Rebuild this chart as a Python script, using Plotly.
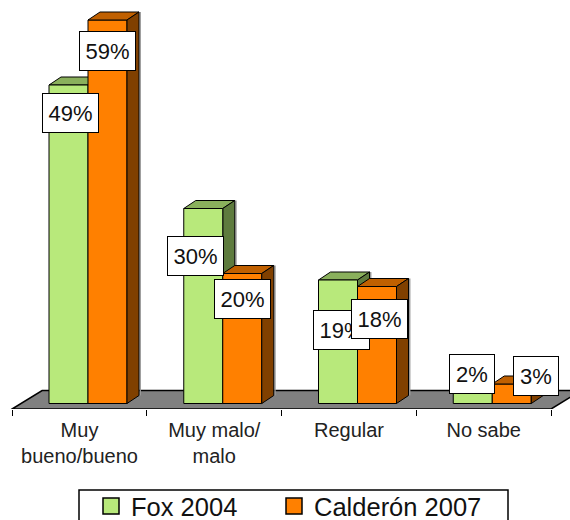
import plotly.graph_objects as go

categories = ["Muy<br>bueno/bueno", "Muy malo/<br>malo", "Regular", "No sabe"]
fox_2004 = [49, 30, 19, 2]
calderon_2007 = [59, 20, 18, 3]

GREEN, GREEN_TOP, GREEN_SIDE = "#B8E97B", "#8AB05C", "#5E7B3E"
ORANGE, ORANGE_TOP, ORANGE_SIDE = "#FF8000", "#C06000", "#804000"

W, H = 570, 520
PLOT_BOTTOM = 409          # pixel row of the axis line
ZERO_PX = 403.5            # pixel row of value 0
PX_PER_VALUE = 6.5
CAT_PX = 134.75            # category width
CAT0_PX = 88.0             # pixel column of the first bar-group centre
LABEL_SHIFT = 8.5 / CAT_PX # tick cells sit left of the bar groups (3D projection)
BAR_PX = 39.0              # bar width
DEPTH_X, DEPTH_Y = 12, 8   # bar depth
FLOOR_X, FLOOR_Y = 30, 18.5

xr = [-CAT0_PX / CAT_PX, (W - CAT0_PX) / CAT_PX]
yr = [(ZERO_PX - PLOT_BOTTOM) / PX_PER_VALUE, ZERO_PX / PX_PER_VALUE]
bw = BAR_PX / CAT_PX
dx, dy = DEPTH_X / CAT_PX, DEPTH_Y / PX_PER_VALUE
floor_front = yr[0]
floor_back = floor_front + FLOOR_Y / PX_PER_VALUE
xs = list(range(len(categories)))
left_edge = -0.5 - LABEL_SHIFT
right_edge = len(categories) - 0.5 - LABEL_SHIFT


def poly(points, fill, layer, line="black", width=1):
    path = "M" + " L".join(f"{x:.4f},{y:.4f}" for x, y in points) + " Z"
    return dict(type="path", path=path, xref="x", yref="y", fillcolor=fill,
                line=dict(color=line, width=width), layer=layer)


def faces(left, value, top_col, side_col, layer):
    right = left + bw
    shadow = dict(type="line", xref="x", yref="y", layer=layer,
                  x0=right + dx + 1.2 / CAT_PX, x1=right + dx + 1.2 / CAT_PX,
                  y0=dy, y1=value + dy, line=dict(color="#9A9A9A", width=1.5))
    return [
        shadow,
        poly([(left, value), (left + dx, value + dy), (right + dx, value + dy), (right, value)], top_col, layer),
        poly([(right, value), (right + dx, value + dy), (right + dx, dy), (right, 0)], side_col, layer),
    ]


shapes = [
    poly([(left_edge, floor_front), (left_edge + FLOOR_X / CAT_PX, floor_back),
          (right_edge + FLOOR_X / CAT_PX, floor_back), (right_edge, floor_front)],
         "#808080", "below", width=1.5)
]
for i in xs:
    shapes += faces(i - bw, fox_2004[i], GREEN_TOP, GREEN_SIDE, "below")
for i in xs:
    shapes += faces(i, calderon_2007[i], ORANGE_TOP, ORANGE_SIDE, "above")

# legend frame (runs past the lower edge of the picture, as in the original)
shapes.append(dict(type="rect", xref="paper", yref="paper", layer="above",
                   x0=79 / W, x1=508 / W,
                   y0=(PLOT_BOTTOM - 530) / PLOT_BOTTOM, y1=(PLOT_BOTTOM - 490) / PLOT_BOTTOM,
                   fillcolor="rgba(0,0,0,0)", line=dict(color="black", width=1.5)))

fig = go.Figure()
for name, vals, col, leg in (("Fox 2004", fox_2004, GREEN, "legend"),
                             ("Calderón 2007", calderon_2007, ORANGE, "legend2")):
    fig.add_bar(x=xs, y=vals, name=name, showlegend=False,
                marker=dict(color=col, line=dict(color="black", width=1)))
    # legend key: the bar key is a fixed 12 px, the original's is about 17 px
    fig.add_scatter(x=[None], y=[None], name=name, mode="markers", legend=leg,
                    marker=dict(symbol="square", size=16, color=col, line=dict(color="black", width=1.5)))

# label box shifts relative to each bar top (pixels)
fox_shift = [(1.5, 28), (-8, 47), (3.5, 50), (-0.5, -16.5)]
cal_shift = [(0, 31), (0.5, 25), (2, 32), (24.5, -8)]
box_w = [53, 53, 53, 42]


def label(i, value, centre, shift):
    return dict(x=centre, y=value, xref="x", yref="y", text=f"{value}%", showarrow=False,
                xshift=shift[0], yshift=-shift[1], width=box_w[i], height=36,
                bgcolor="white", bordercolor="black", borderwidth=1,
                font=dict(family="Liberation Sans", size=22, color="#111111"))


annotations = []
for i in xs:
    annotations.append(label(i, fox_2004[i], i - bw / 2, fox_shift[i]))
for i in xs:
    annotations.append(label(i, calderon_2007[i], i + bw / 2, cal_shift[i]))


def legend_at(px):
    return dict(orientation="h", x=px / W, y=(PLOT_BOTTOM - 483) / PLOT_BOTTOM,
                xanchor="left", yanchor="top", bgcolor="rgba(0,0,0,0)",
                font=dict(family="Liberation Sans", size=25.5, color="#111111"))


fig.update_layout(
    width=W, height=H,
    margin=dict(l=0, r=0, t=0, b=H - PLOT_BOTTOM, pad=0, autoexpand=False),
    paper_bgcolor="white", plot_bgcolor="white",
    barmode="group", bargap=1 - 2 * bw, bargroupgap=0,
    shapes=shapes, annotations=annotations,
    font=dict(family="Liberation Sans", color="#222222"),
    xaxis=dict(range=xr, tickvals=[i - LABEL_SHIFT for i in xs], ticktext=categories, ticks="",
               showgrid=False, zeroline=False, showline=False, tickfont=dict(size=20),
               ticklabelstandoff=7,
               minor=dict(ticks="outside", tick0=0.5 - LABEL_SHIFT, dtick=1, ticklen=6, tickwidth=1,
                          tickcolor="black", showgrid=False)),
    yaxis=dict(range=yr, visible=False, showgrid=False, zeroline=False),
    legend=legend_at(91),
    legend2=legend_at(274),
)

fig.write_html("out.html", post_script="document.body.style.margin='0';",
               config=dict(displayModeBar=False))
